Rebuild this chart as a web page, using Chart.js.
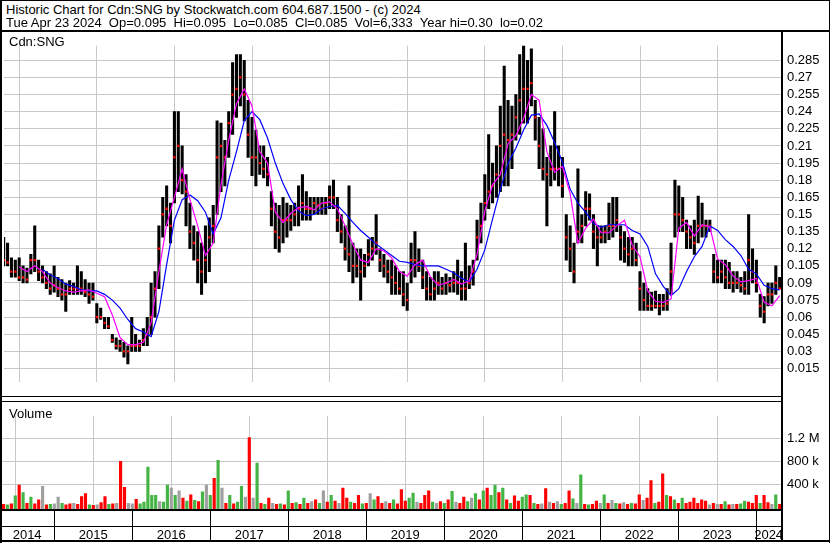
<!DOCTYPE html>
<html>
<head>
<meta charset="utf-8">
<title>Historic Chart for Cdn:SNG</title>
<script src="https://cdn.jsdelivr.net/npm/chart.js@4.4.1/dist/chart.umd.min.js"></script>
<style>
  body { margin: 0; background: #fff; }
  #frame { position: relative; width: 830px; height: 543px; overflow: hidden; background: #fff;
           font-family: "Liberation Sans", Arial, sans-serif; color: #000; }
  #frame canvas { position: absolute; left: 0; }
  .txt { position: absolute; font-size: 13px; line-height: 15px; white-space: pre; z-index: 2; }
  .rule { position: absolute; background: #000; z-index: 3; }
</style>
</head>
<body>
<div id="frame">
  <div class="txt" style="left:6px;top:2px">Historic Chart for Cdn:SNG by Stockwatch.com 604.687.1500 - (c) 2024</div>
  <div class="txt" style="left:6px;top:15px">Tue Apr 23 2024  Op=0.095  Hi=0.095  Lo=0.085  Cl=0.085  Vol=6,333  Year hi=0.30  lo=0.02</div>
  <canvas id="priceChart" width="830" height="364" style="top:32px"></canvas>
  <canvas id="volumeChart" width="830" height="140" style="top:402px"></canvas>
  <div class="txt" style="left:9px;top:34px">Cdn:SNG</div>
  <div class="txt" style="left:9px;top:406px">Volume</div>

  <!-- frame lines -->
  <div class="rule" style="left:0;top:0;width:830px;height:1px"></div>
  <div class="rule" style="left:0;top:30px;width:830px;height:2px"></div>
  <div class="rule" style="left:0;top:396px;width:781px;height:1px"></div>
  <div class="rule" style="left:0;top:401px;width:781px;height:1px"></div>
  <div class="rule" style="left:781px;top:32px;width:2px;height:509px"></div>
  <div class="rule" style="left:0;top:0;width:2px;height:543px"></div>
  <div class="rule" style="left:829px;top:0;width:1px;height:543px"></div>
  <div class="rule" style="left:0;top:540px;width:830px;height:2px"></div>
</div>

<script>
// ---- data ----
const yearEdges = [2015, 2016, 2017, 2018, 2019, 2020, 2021, 2022, 2023, 2024];
const yearLabels = ["2014", "2015", "2016", "2017", "2018", "2019", "2020", "2021", "2022", "2023", "2024"];
const priceTicks = [0.015, 0.03, 0.045, 0.06, 0.075, 0.09, 0.105, 0.12, 0.135, 0.15, 0.165, 0.18, 0.195, 0.21, 0.225, 0.24, 0.255, 0.27, 0.285];
const volumeTicks = [400000, 800000, 1200000];
const volumeTickLabels = ["400 k", "800 k", "1.2 M"];

// one price bar every 0.05 year, starting mid 2014
const barStart = 2014.30;
const barStep = 0.05;
const maStep = 0.1;

const high = [
  .13, .125, .112, .11, .112, .105, .103, .115, .14, .11,
  .105, .1, .098, .105, .095, .093, .09, .092, .09, .105,
  .1, .093, .09, .09, .072, .068, .06, .06, .045, .042,
  .04, .038, .035, .06, .045, .04, .05, .06, .09, .1,
  .14, .165, .175, .16, .24, .24, .21, .185, .16, .14,
  .135, .125, .14, .147, .158, .232, .23, .215, .24, .283,
  .29, .29, .285, .25, .235, .224, .21, .21, .2, .17,
  .16, .158, .165, .16, .158, .16, .175, .185, .17, .165,
  .165, .165, .165, .165, .175, .18, .165, .15, .14, .175,
  .125, .12, .12, .115, .128, .13, .15, .12, .115, .11,
  .11, .105, .1, .1, .09, .125, .135, .12, .11, .1,
  .095, .1, .1, .095, .098, .095, .1, .11, .1, .125,
  .105, .11, .145, .16, .185, .22, .195, .21, .245, .28,
  .25, .245, .255, .29, .3, .285, .295, .25, .235, .225,
  .2, .21, .24, .21, .2, .15, .14, .125, .19, .15,
  .17, .168, .15, .14, .14, .14, .16, .165, .165, .14,
  .135, .13, .13, .125, .1, .09, .085, .082, .083, .08,
  .08, .085, .125, .18, .175, .165, .145, .14, .145, .166,
  .16, .145, .145, .115, .11, .11, .11, .108, .1, .1,
  .095, .1, .15, .12, .11, .08, .078, .09, .09, .105,
  .095
];
const low = [
  .105, .105, .095, .095, .092, .09, .09, .098, .1, .092,
  .09, .085, .08, .082, .078, .075, .065, .08, .08, .08,
  .08, .078, .072, .075, .055, .058, .05, .05, .038, .032,
  .03, .025, .019, .03, .03, .03, .035, .035, .045, .06,
  .085, .13, .14, .125, .16, .17, .168, .14, .12, .11,
  .09, .08, .09, .1, .125, .15, .17, .175, .2, .22,
  .235, .245, .232, .2, .184, .175, .185, .182, .175, .14,
  .12, .117, .125, .13, .136, .14, .14, .145, .145, .145,
  .15, .15, .15, .15, .155, .155, .135, .125, .11, .1,
  .09, .095, .075, .095, .105, .11, .115, .1, .095, .09,
  .08, .08, .08, .07, .066, .09, .095, .1, .085, .075,
  .075, .075, .08, .08, .08, .082, .082, .08, .075, .075,
  .085, .088, .11, .125, .145, .155, .16, .165, .17, .175,
  .175, .19, .215, .22, .23, .23, .245, .215, .19, .18,
  .14, .175, .18, .175, .165, .11, .1, .09, .125, .125,
  .14, .145, .12, .105, .125, .125, .128, .13, .135, .11,
  .108, .105, .105, .105, .066, .066, .066, .066, .068, .062,
  .066, .066, .08, .13, .135, .135, .12, .12, .115, .125,
  .13, .13, .135, .09, .09, .09, .085, .085, .082, .085,
  .082, .08, .08, .09, .082, .06, .055, .07, .072, .08,
  .085
];
const close = [
  .11, .108, .1, .1, .095, .095, .093, .11, .11, .1,
  .095, .09, .085, .088, .085, .08, .08, .085, .085, .085,
  .085, .082, .08, .078, .06, .06, .055, .052, .04, .035,
  .035, .03, .03, .035, .035, .035, .04, .045, .06, .085,
  .12, .15, .155, .14, .2, .21, .18, .17, .135, .125,
  .11, .1, .11, .13, .14, .2, .21, .2, .23, .255,
  .26, .27, .255, .22, .2, .2, .195, .19, .185, .155,
  .135, .13, .145, .145, .145, .15, .155, .16, .155, .155,
  .16, .158, .155, .16, .165, .165, .145, .135, .12, .115,
  .105, .105, .1, .105, .115, .12, .125, .11, .105, .1,
  .095, .09, .085, .08, .075, .11, .11, .105, .095, .085,
  .08, .085, .09, .085, .09, .088, .09, .09, .085, .085,
  .09, .1, .13, .14, .16, .17, .175, .185, .21, .22,
  .215, .22, .235, .25, .26, .26, .265, .235, .21, .19,
  .185, .19, .19, .19, .175, .13, .12, .1, .135, .14,
  .155, .155, .135, .13, .13, .135, .14, .14, .145, .13,
  .12, .115, .12, .11, .085, .075, .07, .07, .07, .07,
  .07, .072, .1, .15, .15, .145, .135, .13, .125, .14,
  .14, .14, .14, .1, .095, .1, .095, .09, .09, .09,
  .088, .085, .11, .1, .09, .07, .065, .08, .08, .09,
  .085
];

// moving averages, one value every 0.1 year
const maFast = [
  null, null, .104, .1, .105, .1, .09, .086, .083, .082,
  .083, .084, .081, .078, .062, .042, .036, .036, .038, .055,
  .1, .141, .165, .19, .163, .14, .114, .125, .176, .215,
  .247, .26, .245, .205, .195, .152, .143, .151, .156, .157,
  .154, .16, .161, .155, .14, .124, .11, .108, .12, .118,
  .112, .1, .096, .106, .11, .095, .088, .09, .093, .089,
  .092, .115, .153, .176, .185, .212, .219, .234, .255, .25,
  .205, .187, .192, .168, .125, .138, .146, .134, .134, .14,
  .145, .123, .113, .083, .074, .073, .076, .138, .143, .131,
  .141, .139, .111, .106, .096, .091, .092, .094, .073, .07,
  .079
];
const maSlow = [
  null, null, null, null, null, .102, .097, .094, .089, .087,
  .084, .083, .083, .08, .075, .068, .058, .05, .047, .043,
  .065, .106, .145, .163, .167, .162, .152, .133, .147, .18,
  .205, .232, .24, .233, .217, .195, .177, .163, .153, .149,
  .15, .155, .157, .158, .151, .143, .136, .13, .124, .119,
  .114, .109, .108, .106, .105, .105, .105, .102, .099, .094,
  .091, .102, .119, .146, .172, .195, .208, .224, .237, .238,
  .228, .213, .196, .172, .16, .152, .142, .139, .141, .141,
  .141, .136, .133, .122, .098, .087, .079, .085, .1, .113,
  .122, .14, .136, .128, .122, .114, .102, .098, .088, .085,
  .084
];

// volume in thousands of shares, same spacing as the price bars
const volumeK = [
  85, 40, 30, 50, 190, 380, 250, 60, 170, 50,
  120, 360, 30, 40, 50, 170, 60, 30, 50, 60,
  40, 180, 230, 30, 25, 30, 70, 180, 40, 50,
  60, 800, 340, 60, 50, 130, 50, 80, 700, 200,
  200, 90, 80, 380, 330, 200, 280, 150, 100, 210,
  110, 90, 260, 380, 200, 500, 820, 330, 60, 200,
  50, 80, 360, 170, 1220, 150, 770, 60, 40, 150,
  60, 40, 50, 30, 280, 60, 70, 40, 150, 60,
  90, 120, 60, 280, 80, 200, 100, 60, 330, 150,
  80, 60, 200, 50, 60, 230, 120, 180, 60, 90,
  60, 120, 50, 300, 100, 150, 240, 80, 60, 200,
  280, 80, 60, 90, 60, 120, 270, 80, 60, 170,
  90, 150, 230, 120, 280, 330, 200, 380, 250, 330,
  120, 60, 190, 100, 170, 210, 200, 60, 40, 50,
  320, 80, 60, 90, 40, 60, 280, 140, 60, 560,
  40, 30, 40, 100, 60, 210, 60, 110, 60, 50,
  70, 40, 60, 50, 210, 110, 150, 460, 60, 80,
  580, 200, 180, 120, 60, 150, 60, 80, 150, 60,
  120, 100, 30, 60, 40, 40, 90, 30, 40, 40,
  50, 100, 80, 60, 200, 60, 200, 70, 40, 210,
  40
];
// r = down, g = up, n = unchanged
const volumeSide = (
  "rrgrgrgrgr" + "rnrgnngrrn" + "rrrgrnrrgr" + "nrrnnrgggg" + "gnggngnrgr" +
  "grgngrgnrg" + "rggnrngrgr" + "nrgrgrgrgr" + "nrgnrgrnrr" + "grrgrngrrn" +
  "rgrrrggnrr" + "rgnrgrgnrr" + "gngrgrggrg" + "rgrrggrgrn" + "rnrngrrgng" +
  "rgrrngrngr" + "nrgrrnrrgr" + "rgrgrgrrrr" + "rrnrnrgrnr" + "ggrrrgrrng" + "r"
).split("");

// ---- shared settings ----
const FONT = { family: "'Liberation Sans', Arial, sans-serif", size: 13 };
const GRID = "#c8c8c8";
const X_MIN = 2014.304;
const X_MAX = 2024.317;
const sideColor = { r: "#ff0000", g: "#44b444", n: "#a0a0a0" };

const barTime = i => barStart + i * barStep;
const maPoints = arr => arr.map((v, k) => ({ x: barStart + k * maStep, y: v })).filter(p => p.y !== null);

function yearAxis() {
  return {
    type: "linear",
    min: X_MIN,
    max: X_MAX,
    offset: false,
    grid: { color: GRID, lineWidth: 1, drawTicks: false },
    border: { display: false },
    ticks: { display: false },
    afterBuildTicks: scale => { scale.ticks = yearEdges.map(v => ({ value: v })); },
    afterFit: scale => { scale.height = 0; }
  };
}

// ---- price panel ----
new Chart(document.getElementById("priceChart"), {
  type: "bar",
  data: {
    datasets: [
      {
        type: "line",
        data: maPoints(maFast),
        borderColor: "#ff00ff",
        borderWidth: 1.2,
        pointRadius: 0,
        order: 0
      },
      {
        type: "line",
        data: maPoints(maSlow),
        borderColor: "#0000ff",
        borderWidth: 1.2,
        pointRadius: 0,
        order: 1
      },
      {
        type: "line",
        data: close.map((c, i) => ({ x: barTime(i), y: c })),
        showLine: false,
        pointStyle: "rect",
        pointRadius: 1.6,
        pointBackgroundColor: "#ff0000",
        pointBorderWidth: 0,
        order: 2
      },
      {
        type: "bar",
        data: high.map((h, i) => ({ x: barTime(i), y: [low[i], h] })),
        backgroundColor: "#000",
        barThickness: 2.4,
        grouped: false,
        order: 3
      }
    ]
  },
  options: {
    responsive: false,
    animation: false,
    events: [],
    layout: { padding: 0 },
    plugins: { legend: { display: false }, tooltip: { enabled: false } },
    scales: {
      x: yearAxis(),
      y: {
        type: "linear",
        position: "right",
        min: 0.0031,
        max: 0.2977,
        grid: { color: GRID, lineWidth: 1, drawTicks: false },
        border: { display: false },
        ticks: {
          autoSkip: false,
          padding: 6,
          color: "#000",
          font: FONT,
          callback: v => String(+v.toFixed(3))
        },
        afterBuildTicks: scale => { scale.ticks = priceTicks.map(v => ({ value: v })); },
        afterFit: scale => { scale.width = 49; }
      }
    }
  }
});

// ---- volume panel + year strip underneath ----
const yearStrip = {
  id: "yearStrip",
  afterDraw(chart) {
    const { ctx, chartArea, scales } = chart;
    const xs = scales.x;
    const top = chartArea.bottom;
    const right = chartArea.right;
    ctx.save();
    ctx.fillStyle = "#000";
    ctx.fillRect(0, top, right, 2);
    ctx.fillRect(0, top + 17, right, 1);
    yearEdges.forEach(y => {
      ctx.fillRect(Math.round(xs.getPixelForValue(y)), top, 1, 31);
    });
    ctx.font = "13px 'Liberation Sans', Arial, sans-serif";
    ctx.textAlign = "center";
    ctx.textBaseline = "alphabetic";
    const edges = [xs.min, ...yearEdges, xs.max];
    yearLabels.forEach((label, i) => {
      const a = xs.getPixelForValue(edges[i]);
      const b = xs.getPixelForValue(edges[i + 1]);
      ctx.fillText(label, (a + b) / 2, top + 30);
    });
    ctx.restore();
  }
};

new Chart(document.getElementById("volumeChart"), {
  type: "bar",
  data: {
    datasets: [{
      data: volumeK.map((v, i) => ({ x: barTime(i), y: v * 1000 })),
      backgroundColor: volumeSide.map(s => sideColor[s]),
      barThickness: 2.5,
      grouped: false,
      base: -41500
    }]
  },
  options: {
    responsive: false,
    animation: false,
    events: [],
    layout: { padding: { left: 0, right: 0, top: 0, bottom: 33 } },
    plugins: { legend: { display: false }, tooltip: { enabled: false } },
    scales: {
      x: yearAxis(),
      y: {
        type: "linear",
        position: "right",
        min: -41500,
        max: 1604600,
        grid: { color: GRID, lineWidth: 1, drawTicks: false },
        border: { display: false },
        ticks: {
          autoSkip: false,
          padding: 6,
          color: "#000",
          font: FONT,
          callback: v => volumeTickLabels[volumeTicks.indexOf(v)]
        },
        afterBuildTicks: scale => { scale.ticks = volumeTicks.map(v => ({ value: v })); },
        afterFit: scale => { scale.width = 49; }
      }
    }
  },
  plugins: [yearStrip]
});
</script>
</body>
</html>
